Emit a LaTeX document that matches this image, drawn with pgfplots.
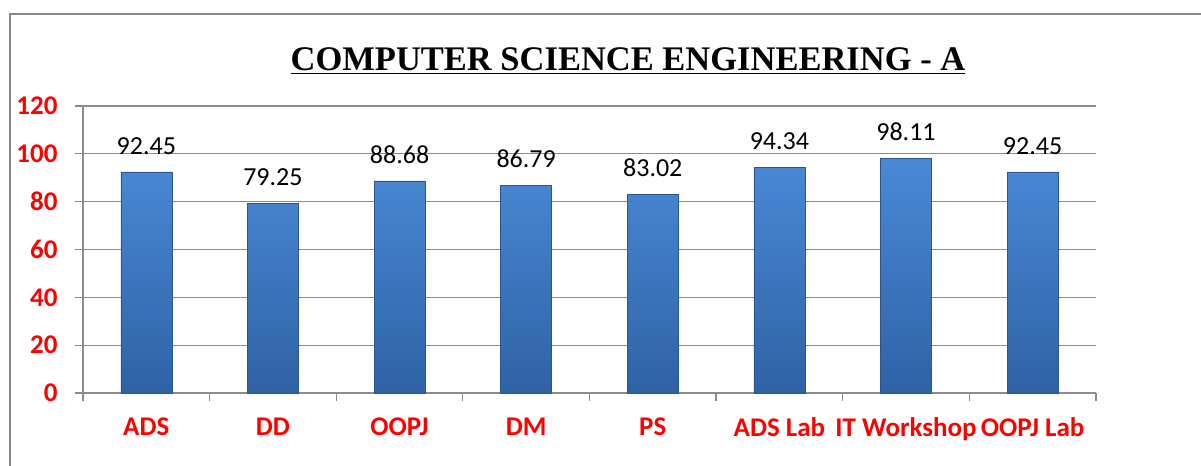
\documentclass[border=0pt]{standalone}
\usepackage{fontspec}
\setmainfont{Carlito}
\newfontfamily\titlefont{Liberation Serif}
\usepackage{pgfplots}
\pgfplotsset{compat=1.18}

\definecolor{barTop}{HTML}{4A89D6}
\definecolor{barBot}{HTML}{2F62A5}
\definecolor{barEdge}{HTML}{2A5590}
\definecolor{gridGray}{HTML}{8C8C8C}
\definecolor{frameGray}{HTML}{878787}

\begin{document}
\begin{tikzpicture}
\useasboundingbox (-83bp,-73bp) rectangle (1118bp,393bp);
\draw[frameGray, line width=2bp] (-73bp,-73bp) -- (-73bp,379bp) -- (1118bp,379bp);
\node[anchor=base, inner sep=0] at (545bp,322bp)
  {\titlefont\bfseries\fontsize{34.5bp}{40bp}\selectfont\underline{COMPUTER SCIENCE ENGINEERING - A}};
\begin{axis}[
    at={(0,0)}, anchor=south west,
    scale only axis,
    width=1013bp, height=287bp,
    xmin=-0.5, xmax=7.5,
    ymin=0, ymax=120,
    axis lines*=left,
    axis line style={draw=gridGray, line width=1.3bp},
    ytick={0,20,...,120},
    ymajorgrids,
    grid style={draw=gridGray, line width=1.2bp},
    xtick={-0.5,0.5,...,7.5},
    x tick label as interval,
    xticklabels={ADS,DD,OOPJ,DM,PS,ADS Lab,IT Workshop,OOPJ Lab},
    tick align=outside,
    major tick length=8bp,
    tick style={draw=gridGray, line width=1.2bp},
    /pgf/number format/assume math mode=true,
    ticklabel style={text=red, font=\bfseries\fontsize{27bp}{30bp}\selectfont},
    yticklabel style={xshift=-14bp},
    xticklabel style={yshift=-13bp},
    ybar, bar width=51bp,
    point meta=explicit symbolic,
    nodes near coords,
    nodes near coords style={font=\fontsize{26bp}{30bp}\selectfont, text=black, inner sep=0, anchor=south, yshift=17bp},
]
\addplot[draw=barEdge, line width=0.6bp, top color=barTop, bottom color=barBot] coordinates {
    (0,92.45) [92.45]
    (1,79.25) [79.25]
    (2,88.68) [88.68]
    (3,86.79) [86.79]
    (4,83.02) [83.02]
    (5,94.34) [94.34]
    (6,98.11) [98.11]
    (7,92.45) [92.45]
};
\end{axis}
\end{tikzpicture}
\end{document}
